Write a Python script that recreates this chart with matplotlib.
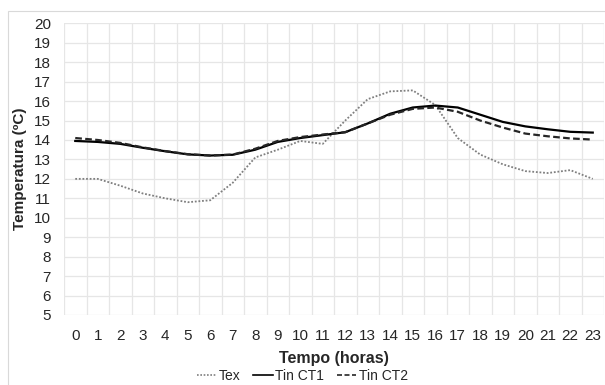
import numpy as np
import matplotlib
matplotlib.use("Agg")
import matplotlib.pyplot as plt
from matplotlib.patches import Rectangle

plt.rcParams['font.family'] = ['Liberation Sans', 'DejaVu Sans']

# hourly temperatures
horas = list(range(24))
tex = [12.0, 12.0, 11.65, 11.25, 11.0, 10.8, 10.9, 11.8, 13.1, 13.5, 13.95, 13.8,
       15.0, 16.1, 16.5, 16.55, 15.8, 14.1, 13.25, 12.75, 12.4, 12.3, 12.45, 12.0]
tin_ct1 = [13.95, 13.9, 13.8, 13.6, 13.42, 13.26, 13.2, 13.24, 13.5, 13.9, 14.1, 14.25,
           14.4, 14.85, 15.35, 15.67, 15.77, 15.67, 15.3, 14.93, 14.7, 14.55, 14.42, 14.38]
tin_ct2 = [14.1, 14.0, 13.85, 13.62, 13.43, 13.27, 13.2, 13.25, 13.55, 13.95, 14.15, 14.28,
           14.4, 14.85, 15.3, 15.6, 15.67, 15.45, 15.0, 14.64, 14.33, 14.19, 14.08, 14.02]

fig = plt.figure(figsize=(6.05, 3.85), dpi=100, facecolor='w')
fig.patches.append(Rectangle((7.5/605, -0.1), 1.2, 1.1 - 11.5/385,
                             transform=fig.transFigure, fill=False,
                             edgecolor='#d9d9d9', linewidth=0.8))
ax = fig.add_axes([64/605, 1-315/385, 540/605, (315-23.3)/385])

x = np.array(horas)
ax.plot(x, tex, linestyle=(0, (1, 1)), color='#7f7f7f', linewidth=1.3, label='Tex')
ax.plot(x, tin_ct1, linestyle='-', color='#000000', linewidth=1.6, label='Tin CT1')
ax.plot(x, tin_ct2, linestyle=(0, (3, 1.5)), color='#262626', linewidth=1.6, label='Tin CT2')

ax.set_xlim(-0.5, 23.5)
ax.set_ylim(5, 20)
ax.set_yticks(range(5, 21))
ax.set_xticks(x)
ax.set_xticklabels([str(h) for h in horas])
ax.set_xticks(np.arange(-0.5, 24, 1), minor=True)
ax.grid(False)
ax.grid(True, which='minor', axis='x', color='#e6e6e6', linewidth=0.9)
ax.grid(True, which='major', axis='y', color='#e6e6e6', linewidth=0.9)
ax.tick_params(axis='both', which='both', length=0, labelsize=11, colors='#262626')
ax.tick_params(axis='y', pad=9.5)
ax.tick_params(axis='x', pad=10)
for s in ax.spines.values():
    s.set_visible(False)

ax.set_xlabel('Tempo (horas)', fontsize=11.5, fontweight='bold', color='#262626', labelpad=6)
ax.set_ylabel('Temperatura (ºC)', fontsize=11, fontweight='bold', color='#262626', labelpad=5)

leg = fig.legend(loc='center', bbox_to_anchor=(0.5, 1-376/385), ncol=3, frameon=False,
                 fontsize=10, handlelength=1.4, handletextpad=0.2, columnspacing=0.9,
                 labelcolor='#262626', borderpad=0.1)
for h in leg.get_lines():
    h.set_linewidth(1.2)

fig.savefig('out.png', dpi=100)
